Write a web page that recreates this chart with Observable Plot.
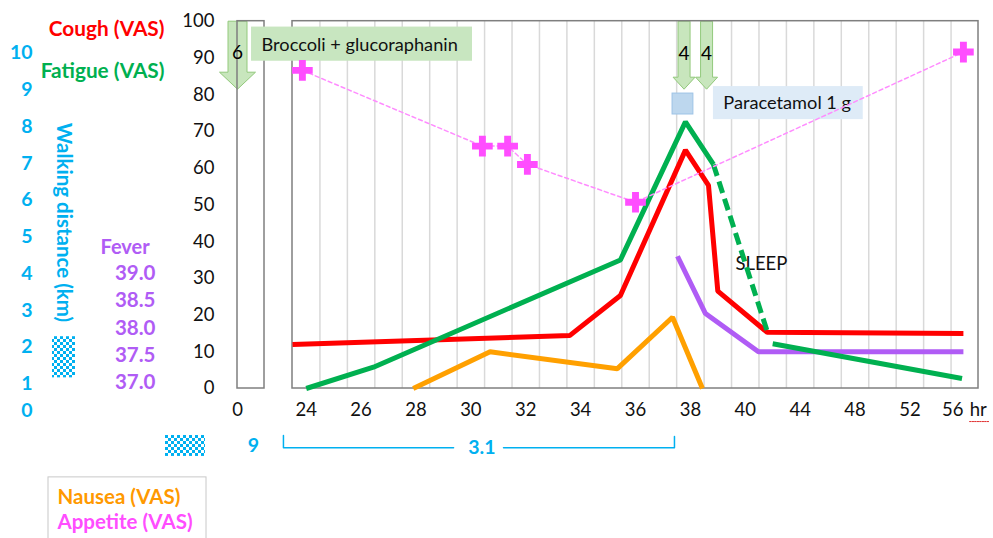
<!DOCTYPE html>
<html><head><meta charset="utf-8">
<script src="https://cdn.jsdelivr.net/npm/d3@7"></script>
<script src="https://cdn.jsdelivr.net/npm/@observablehq/plot@0.6"></script>
<style>body{margin:0;background:#fff}</style>
</head><body><div id="chart"></div>
<script>
// ---- data: hours since start, VAS 0–100 ----
const coughHr   = [23.5, 33.6, 35.45, 37.82, 38.66, 39.0, 41.6, 55.9];
const coughVal  = [12, 14.4, 25.3, 64.9, 55.3, 26.5, 15.3, 15];
const fatigueHr  = [24, 26.45, 35.45, 37.82, 38.84];
const fatigueVal = [0, 5.8, 35, 72.6, 61];
const sleepHr    = [38.84, 41.7];
const sleepVal   = [61, 14.4];
const fatigue2Hr  = [42, 55.8];
const fatigue2Val = [12.2, 2.7];
const feverHr  = [37.53, 38.55, 40.96, 55.9];
const feverVal = [36, 20.4, 10, 10];
const nauseaHr  = [27.9, 30.7, 35.34, 37.35, 38.44];
const nauseaVal = [0, 10, 5.4, 19.4, 0];
const appetiteHr  = [23.86, 30.42, 31.34, 32.06, 36.0, 55.9];
const appetiteVal = [86.6, 66, 66, 61, 50.7, 91.6];
const broccoliDoses = [{hr: 0, n: "6"}];
const paracetamolDoses = [{hr: 37.77, n: "4"}, {hr: 38.59, n: "4"}];
const walkDist = ["9", "3.1"];
const walkPeriodHr = [23.17, 37.42];

// tick labels
const xTicks = [0, 24, 26, 28, 30, 32, 34, 36, 38, 40, 44, 48, 52];
const xLast = 56;
const yTicks = [0, 10, 20, 30, 40, 50, 60, 70, 80, 90, 100];
const walkTicks = [10, 9, 8, 7, 6, 5, 4, 3, 2, 1, 0];
const feverTicks = ["39.0", "38.5", "38.0", "37.5", "37.0"];

const zip = (xs, ys) => xs.map((x, i) => ({x, y: ys[i]}));
const cough = zip(coughHr, coughVal);
const fatigue = zip(fatigueHr, fatigueVal);
const sleep = zip(sleepHr, sleepVal);
const fatigue2 = zip(fatigue2Hr, fatigue2Val);
const fever = zip(feverHr, feverVal);
const nausea = zip(nauseaHr, nauseaVal);
const appetite = zip(appetiteHr, appetiteVal);

// category-slot axis: 1 h per slot up to 40 h, 2 h per slot after; separate box at 0 h
function hourToSlot(h) {
  const u1 = (27 - 55) / 27.44;          // slot position of hour 1 (end of the 0-h box)
  if (h <= 1) return (27 * h - 55) / 27.44;
  if (h < 22.5) return u1 + (h - 1) / 21.5 * (-1 - u1);
  if (h <= 40) return h - 23.5;
  return 16.5 + (h - 40) / 2;
}

// gridlines at category boundaries
const gridHours = [...d3.range(24.5, 40, 1), ...d3.range(41, 56, 2)];

const RED = "#ff0000", GREEN = "#00b050", BLUE = "#00b0f0", PURPLE = "#b05cf5",
      ORANGE = "#ffa000", PINK = "#ff4dff", FONT = "Lato";

function blockArrow(sw, hw, sh, th) {
  return {draw(ctx) {
    ctx.moveTo(-sw / 2, 0); ctx.lineTo(sw / 2, 0); ctx.lineTo(sw / 2, sh);
    ctx.lineTo(hw / 2, sh); ctx.lineTo(0, th); ctx.lineTo(-hw / 2, sh);
    ctx.lineTo(-sw / 2, sh); ctx.closePath();
  }};
}

const lineOpts = (stroke, extra = {}) => ({x: "x", y: "y", stroke, strokeWidth: 5,
  strokeLinecap: "butt", strokeLinejoin: "miter", ...extra});
const txt = (extra) => ({fontFamily: FONT, fontSize: 18.5, ...extra});

const plot = Plot.plot({
  width: 993, height: 538,
  marginTop: 0, marginRight: 0, marginBottom: 0, marginLeft: 0,
  style: {background: "#fff", fontFamily: FONT},
  x: {type: "linear", transform: hourToSlot, domain: [0, 25], range: [292, 978], axis: null},
  y: {domain: [0, 100], range: [388, 20.7], axis: null},
  marks: [
    Plot.ruleX(gridHours, {y1: 0, y2: 100, stroke: "#d9d9d9", strokeWidth: 1.5}),
    // dose arrows
    Plot.dot(broccoliDoses, {x: "hr", y: 100, symbol: blockArrow(19, 36, 51, 68), fill: "#c8e6bd", stroke: "#93c97c", strokeWidth: 1}),
    Plot.dot(paracetamolDoses, {x: "hr", y: 100, symbol: blockArrow(12, 22, 56, 68), fill: "#c8e6bd", stroke: "#93c97c", strokeWidth: 1}),
    // frames
    Plot.rect([0], {x1: 0, x2: 1, y1: 0, y2: 100, fill: "none", stroke: "#7f7f7f", strokeWidth: 1.5}),
    Plot.rect([0], {x1: 23.5, x2: 57, y1: 0, y2: 100, fill: "none", stroke: "#7f7f7f", strokeWidth: 1.5}),
    Plot.text(broccoliDoses, txt({x: "hr", y: 91.5, text: "n", fontSize: 19})),
    Plot.text(paracetamolDoses, txt({x: "hr", y: 91.2, text: "n", fontSize: 19})),
    // annotation boxes
    Plot.rect([0], {x1: 0.52, x2: 30.06, y1: 89.1, y2: 98.4, fill: "#c8e6c0"}),
    Plot.text(["Broccoli + glucoraphanin"], txt({x: 0.89, y: 93.4, text: d => d, textAnchor: "start", fontSize: 18.2, fill: "#111"})),
    Plot.rect([0], {x1: 38.84, x2: 48.6, y1: 73.2, y2: 82.2, fill: "#deebf7"}),
    Plot.text(["Paracetamol 1 g"], txt({x: 39.2, y: 77.7, text: d => d, textAnchor: "start", fontSize: 18.2, fill: "#111"})),
    Plot.rect([0], {x1: 37.35, x2: 38.11, y1: 74.6, y2: 80.3, fill: "#bdd7ee", stroke: "#9dc3e6"}),
    Plot.text(["SLEEP"], txt({x: 39.64, y: 34, text: d => d, textAnchor: "start", fill: "#111"})),
    // series
    Plot.line(nausea, lineOpts(ORANGE)),
    Plot.line(fever, lineOpts(PURPLE)),
    Plot.line(cough, lineOpts(RED)),
    Plot.line(fatigue, lineOpts(GREEN)),
    Plot.line(sleep, lineOpts(GREEN, {strokeDasharray: "12,6"})),
    Plot.line(fatigue2, lineOpts(GREEN)),
    Plot.line(appetite, {x: "x", y: "y", stroke: "#ff8cff", strokeWidth: 1.5, strokeDasharray: "4,3"}),
    Plot.dot(appetite, {x: "x", y: "y", symbol: "cross", r: 8.7, fill: PINK}),
    // y tick labels
    Plot.text(yTicks, txt({y: d => d, text: d => String(d), frameAnchor: "left", dx: 214, textAnchor: "end", fill: "#111"})),
    // x tick labels
    Plot.text(xTicks, txt({x: d => d, y: -6, text: d => String(d), fill: "#111"})),
    Plot.text([xLast], txt({x: d => d, y: -6, dx: -12, text: d => String(d), fill: "#111"})),
    Plot.text(["hr"], txt({x: xLast, y: -6, dx: 5, text: d => d, textAnchor: "start", fill: "#111"})),
    Plot.line([{x: 56.35, y: -9}, {x: 57.8, y: -9}], {x: "x", y: "y", stroke: "#e03030", strokeWidth: 1, strokeDasharray: "1.5,1"}),
    // left legend labels
    Plot.text(["Cough (VAS)"], txt({y: 97.7, text: d => d, frameAnchor: "left", dx: 164, textAnchor: "end", fill: RED, fontWeight: "bold", fontSize: 20.8})),
    Plot.text(["Fatigue (VAS)"], txt({y: 86.3, text: d => d, frameAnchor: "left", dx: 164, textAnchor: "end", fill: GREEN, fontWeight: "bold", fontSize: 20.8})),
    Plot.text(walkTicks, txt({y: d => d === 0 ? -6 : 10 * d - 8.7, text: d => String(d), frameAnchor: "left", dx: 32, textAnchor: "end", fill: BLUE, fontWeight: "bold", fontSize: 19.5})),
    Plot.text(["Walking distance (km)"], txt({y: 45.2, text: d => d, frameAnchor: "left", dx: 63, textAnchor: "middle", rotate: 90, fill: BLUE, fontWeight: "bold", fontSize: 20.5})),
    Plot.rect([0], {y1: 2.9, y2: 14.1, insetLeft: 52, insetRight: 918, fill: "url(#checker)"}),
    Plot.text(["Fever"], txt({y: 38.4, text: d => d, frameAnchor: "left", dx: 100, textAnchor: "start", fill: PURPLE, fontWeight: "bold", fontSize: 20})),
    Plot.text(feverTicks, txt({y: d => 1.6 + (+d - 37) / 0.5 * 7.43, text: d => d, frameAnchor: "left", dx: 155, textAnchor: "end", fill: PURPLE, fontWeight: "bold", fontSize: 20.5})),
    // walking distance row
    Plot.rect([0], {y1: -12.8, y2: -18.5, insetLeft: 165, insetRight: 788, fill: "url(#checker)"}),
    Plot.text([walkDist[0]], txt({y: -15.5, text: d => d, frameAnchor: "left", dx: 253, textAnchor: "middle", fill: BLUE, fontWeight: "bold", fontSize: 19.5})),
    Plot.line([{x: walkPeriodHr[0], y: -12.8}, {x: walkPeriodHr[0], y: -16.1}, {x: 29.37, y: -16.1}], {x: "x", y: "y", stroke: BLUE, strokeWidth: 1.5}),
    Plot.line([{x: 31.19, y: -16.1}, {x: walkPeriodHr[1], y: -16.1}, {x: walkPeriodHr[1], y: -13.1}], {x: "x", y: "y", stroke: BLUE, strokeWidth: 1.5}),
    Plot.text([walkDist[1]], txt({x: 30.4, y: -16, text: d => d, fill: BLUE, fontWeight: "bold", fontSize: 19.5})),
    // bottom legend box
    Plot.rect([0], {y1: -24.2, y2: -42, insetLeft: 48, insetRight: 787, fill: "none", stroke: "#c8c8c8", strokeWidth: 1}),
    Plot.text(["Nausea (VAS)"], txt({y: -29.7, text: d => d, frameAnchor: "left", dx: 57, textAnchor: "start", fill: "#ff9900", fontWeight: "bold", fontSize: 20.5})),
    Plot.text(["Appetite (VAS)"], txt({y: -36.5, text: d => d, frameAnchor: "left", dx: 57, textAnchor: "start", fill: PINK, fontWeight: "bold", fontSize: 20.5}))
  ]
});

const ns = "http://www.w3.org/2000/svg";
const defs = document.createElementNS(ns, "defs");
defs.innerHTML = `<pattern id="checker" width="6" height="6" patternUnits="userSpaceOnUse">
<rect width="6" height="6" fill="#ffffff"/><rect width="3" height="3" fill="${BLUE}"/><rect x="3" y="3" width="3" height="3" fill="${BLUE}"/></pattern>`;
plot.prepend(defs);
document.getElementById("chart").append(plot);
</script>
</body></html>
